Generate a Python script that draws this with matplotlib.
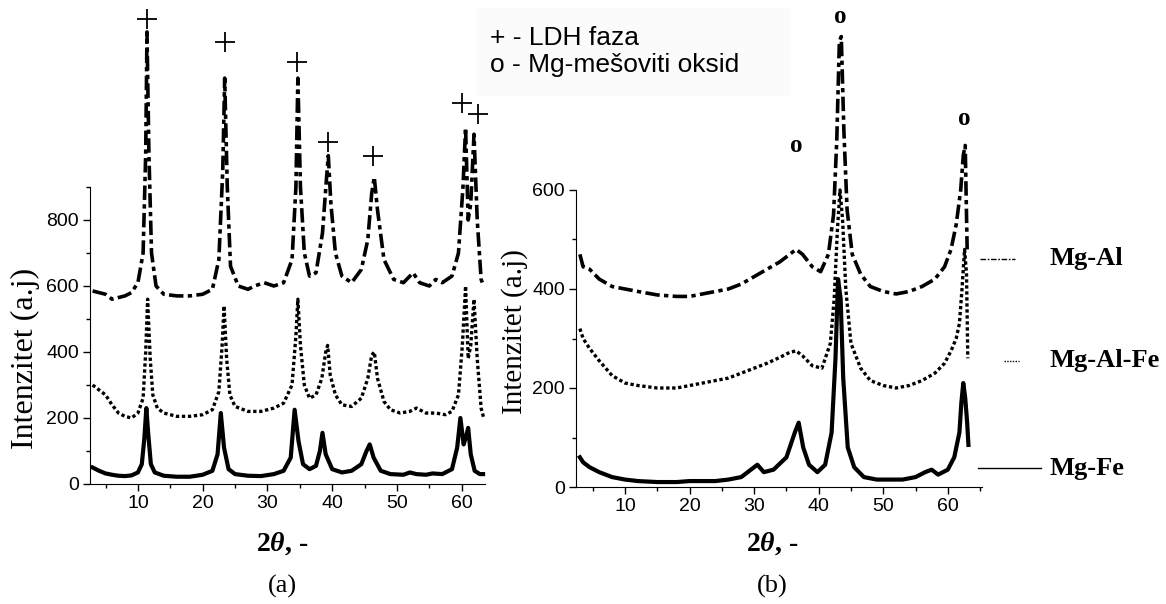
import matplotlib.pyplot as plt
from matplotlib.lines import Line2D
from matplotlib.patches import Rectangle
from matplotlib.ticker import MultipleLocator

plt.rcParams['font.family'] = ['Liberation Sans', 'DejaVu Sans']
plt.rcParams['mathtext.fontset'] = 'custom'
plt.rcParams['mathtext.rm'] = 'Liberation Serif:bold'
plt.rcParams['mathtext.it'] = 'Liberation Serif:bold:italic'

# ---- (a) LDH samples ----
a_mgal_x = [3, 4, 5, 6, 7, 8, 9, 10, 10.8, 11.2, 11.4, 11.7, 12.1, 12.8, 14, 16, 18, 20, 21.5,
            22.5, 23.1, 23.4, 23.8, 24.3, 25.5, 27, 28, 29.5, 31, 32.5, 33.8, 34.4, 34.7, 35.1,
            35.7, 36.5, 37.5, 38.5, 39.1, 39.4, 39.8, 40.5, 41.5, 43, 44.5, 45.5, 46.1, 46.5, 47,
            48, 49.5, 51, 52.5, 53.5, 55, 56, 57, 58.5, 59.5, 60.2, 60.6, 61.0, 61.4, 61.9, 62.4,
            63, 63.4]
a_mgal_y = [585, 580, 575, 560, 565, 570, 580, 610, 700, 1000, 1370, 1000, 700, 600, 575, 570,
            570, 575, 590, 680, 950, 1230, 900, 660, 600, 590, 600, 610, 600, 610, 680, 900,
            1230, 900, 700, 630, 640, 760, 920, 995, 850, 700, 630, 610, 650, 740, 880, 930, 830,
            680, 620, 610, 640, 610, 600, 620, 610, 630, 700, 900, 1080, 800, 850, 1060, 800,
            620, 600]

a_mgalfe_x = [3, 4, 5, 6, 7, 8, 9, 10, 10.8, 11.2, 11.5, 11.9, 12.3, 13, 14, 16, 18, 20, 21.5,
              22.5, 23.0, 23.3, 23.7, 24.2, 25, 27, 29, 31, 32.5, 33.8, 34.4, 34.7, 35.1, 35.7,
              36.5, 37.5, 38.4, 39.0, 39.3, 39.7, 40.5, 41.5, 43, 44.5, 45.5, 46.1, 46.5, 47, 48,
              49, 50.5, 52, 53, 54.5, 56, 57.5, 58.5, 59.5, 60.1, 60.6, 61.0, 61.4, 61.9, 62.4,
              63, 63.4]
a_mgalfe_y = [300, 285, 270, 240, 215, 205, 200, 215, 260, 400, 560, 380, 270, 230, 215, 205,
              205, 210, 225, 280, 420, 540, 380, 270, 235, 220, 220, 230, 245, 300, 450, 560,
              420, 300, 260, 270, 320, 400, 420, 330, 270, 240, 235, 260, 320, 390, 400, 320,
              250, 225, 215, 220, 230, 215, 215, 210, 220, 270, 420, 600, 380, 420, 560, 380,
              230, 200]

a_mgfe_x = [3, 4, 5, 6, 7, 8, 9, 10, 10.6, 11.0, 11.3, 11.6, 12.0, 12.6, 14, 16, 18, 20, 21.5,
            22.3, 22.8, 23.3, 24, 25, 27, 29, 31, 32.5, 33.6, 34.2, 34.8, 35.5, 36.5, 37.5, 38.1,
            38.5, 39.0, 40, 41.5, 43, 44.5, 45.3, 45.8, 46.4, 47.5, 49, 51, 52, 53, 54.5, 55.5,
            57, 58.5, 59.3, 59.8, 60.3, 60.7, 61.0, 61.4, 62, 62.8, 63.3]
a_mgfe_y = [50, 40, 32, 28, 25, 24, 26, 35, 60, 140, 230, 150, 60, 35, 25, 22, 22, 28, 40, 90,
            215, 110, 45, 30, 25, 24, 30, 40, 80, 225, 130, 60, 45, 55, 100, 155, 90, 45, 35,
            40, 60, 100, 120, 80, 40, 30, 28, 35, 30, 28, 32, 30, 45, 110, 200, 120, 145, 170,
            90, 40, 30, 30]

ldh_x = [11.4, 23.4, 34.5, 39.3, 46.3, 60.0, 62.5]
ldh_y = [1409, 1339, 1279, 1036, 994, 1155, 1121]

# ---- (b) calcined samples ----
b_mgal_x = [3, 3.5, 4.5, 6, 8, 10, 12, 15, 18, 20, 22, 24, 26, 28, 30, 32, 34, 35.5, 36.5, 37.5,
            39, 40.3, 41.5, 42.3, 42.8, 43.2, 43.5, 43.9, 44.4, 45.2, 46.5, 48, 50, 52, 54, 56,
            58, 59.5, 60.5, 61.3, 62, 62.4, 62.7, 63.0]
b_mgal_y = [470, 445, 440, 420, 405, 400, 395, 388, 385, 385, 390, 395, 400, 410, 425, 440,
            455, 470, 480, 470, 445, 435, 470, 550, 700, 900, 910, 720, 560, 470, 430, 405,
            395, 390, 395, 405, 420, 445, 480, 530, 600, 670, 690, 480]

b_mgalfe_x = [3, 3.5, 4.5, 6, 8, 10, 12, 15, 18, 20, 22, 24, 26, 28, 30, 32, 34, 35.5, 36.5,
              37.5, 39, 40.5, 41.8, 42.4, 42.9, 43.3, 43.7, 44.2, 45, 46.5, 48, 50, 52, 54, 56,
              58, 59.5, 60.5, 61.3, 61.8, 62.2, 62.6, 62.9, 63.1]
b_mgalfe_y = [320, 300, 280, 255, 225, 210, 205, 200, 200, 205, 210, 215, 220, 230, 240, 250,
              262, 272, 275, 265, 245, 240, 290, 380, 520, 600, 540, 400, 290, 240, 215, 205,
              200, 205, 215, 230, 250, 275, 300, 330, 400, 480, 430, 260]

b_mgfe_x = [3, 3.5, 4.5, 6, 8, 10, 12, 15, 18, 20, 22, 24, 26, 28, 29.5, 30.5, 31.5, 33, 35,
            36.3, 36.9, 37.6, 38.5, 39.8, 41, 42, 42.6, 43.0, 43.4, 43.8, 44.5, 45.5, 47, 49, 51,
            53, 55, 56.5, 57.5, 58.5, 60, 61, 61.8, 62.1, 62.4, 62.7, 63.0, 63.2]
b_mgfe_y = [60, 50, 40, 30, 20, 15, 12, 10, 10, 12, 12, 12, 15, 20, 35, 45, 30, 35, 60, 110,
            130, 80, 45, 30, 45, 110, 260, 420, 380, 220, 80, 40, 20, 15, 15, 15, 20, 30, 35,
            25, 35, 60, 110, 170, 210, 180, 130, 85]

oxide_x = [36.5, 43.4, 62.6]
oxide_y = [690, 950, 745]

W = 1166
H = 604

fig = plt.figure(figsize=(W / 100, H / 100), dpi=100)


def style_axis(ax, xlim, ylim, ymaj, ymin):
    ax.set_xlim(*xlim)
    ax.set_ylim(*ylim)
    ax.spines['top'].set_visible(False)
    ax.spines['right'].set_visible(False)
    ax.xaxis.set_major_locator(MultipleLocator(10))
    ax.xaxis.set_minor_locator(MultipleLocator(5))
    ax.yaxis.set_major_locator(MultipleLocator(ymaj))
    ax.yaxis.set_minor_locator(MultipleLocator(ymin))
    ax.tick_params(which='major', direction='out', length=5, width=1, labelsize=14, pad=3)
    ax.tick_params(which='minor', direction='out', length=3, width=1)
    ax.set_facecolor('none')


MGAL_LS = (0, (4, 1.2, 1.2, 1.2))
MGALFE_LS = (0, (1, 0.8))


def draw_trace(ax, xs, ys, ls, lw):
    ax.plot(xs, ys, color='black', linewidth=lw, linestyle=ls, clip_on=False)


ax1 = fig.add_axes([90 / W, 1 - 484 / H, 395 / W, 297 / H])
style_axis(ax1, (2.6, 63.6), (0, 900), 200, 100)
draw_trace(ax1, a_mgal_x, a_mgal_y, MGAL_LS, 2.6)
draw_trace(ax1, a_mgalfe_x, a_mgalfe_y, MGALFE_LS, 2.4)
draw_trace(ax1, a_mgfe_x, a_mgfe_y, '-', 3)
ax1.plot(ldh_x, ldh_y, linestyle='none', marker='+', markersize=15,
         markeredgewidth=1.3, color='black', clip_on=False)

ax2 = fig.add_axes([576 / W, 1 - 487 / H, 406 / W, 297 / H])
style_axis(ax2, (2.4, 65.3), (0, 600), 200, 100)
draw_trace(ax2, b_mgal_x, b_mgal_y, MGAL_LS, 2.6)
draw_trace(ax2, b_mgalfe_x, b_mgalfe_y, MGALFE_LS, 2.4)
draw_trace(ax2, b_mgfe_x, b_mgfe_y, '-', 3)
for ox, oy in zip(oxide_x, oxide_y):
    ax2.text(ox, oy, 'o', ha='center', va='center', fontsize=18,
             fontfamily='Liberation Serif', fontweight='bold')

# axis titles
serif = 'Liberation Serif'
fig.text(25 / W, 1 - 358 / H, 'Intenzitet (a.j)', rotation=90, ha='center', va='center',
         fontsize=23, fontfamily=serif)
fig.text(515 / W, 1 - 332 / H, 'Intenzitet (a.j)', rotation=90, ha='center', va='center',
         fontsize=21, fontfamily=serif)
for cx in (282, 772):
    fig.text(cx / W, 1 - 544 / H, r'2$\theta$, -', ha='center', va='center', fontsize=20,
             fontfamily=serif, fontweight='bold')
fig.text(282 / W, 1 - 586 / H, '(a)', ha='center', va='center', fontsize=19, fontfamily=serif)
fig.text(772 / W, 1 - 586 / H, '(b)', ha='center', va='center', fontsize=19, fontfamily=serif)

# phase key
fig.patches.append(Rectangle((476 / W, 1 - 96 / H), 314 / W, 88 / H, transform=fig.transFigure,
                             facecolor='#fbfbfb', edgecolor='none', zorder=0))
fig.text(490 / W, 1 - 38 / H, '+ - LDH faza', ha='left', va='center', fontsize=19)
fig.text(490 / W, 1 - 65 / H, 'o - Mg-mešoviti oksid', ha='left', va='center', fontsize=19)

# sample key on the right
keys = [('Mg-Al', 259, 980, 1015, MGAL_LS),
        ('Mg-Al-Fe', 361, 1004, 1019, (0, (1, 1))),
        ('Mg-Fe', 468, 978, 1041, '-')]
for name, yk, x0, x1, ls in keys:
    fig.add_artist(Line2D([x0 / W, x1 / W], [1 - yk / H, 1 - yk / H], color='black',
                          linewidth=1, linestyle=ls, transform=fig.transFigure))
    fig.text(1050 / W, 1 - yk / H, name, ha='left', va='center', fontsize=19,
             fontfamily=serif, fontweight='bold')

fig.savefig('out.png', dpi=100)
